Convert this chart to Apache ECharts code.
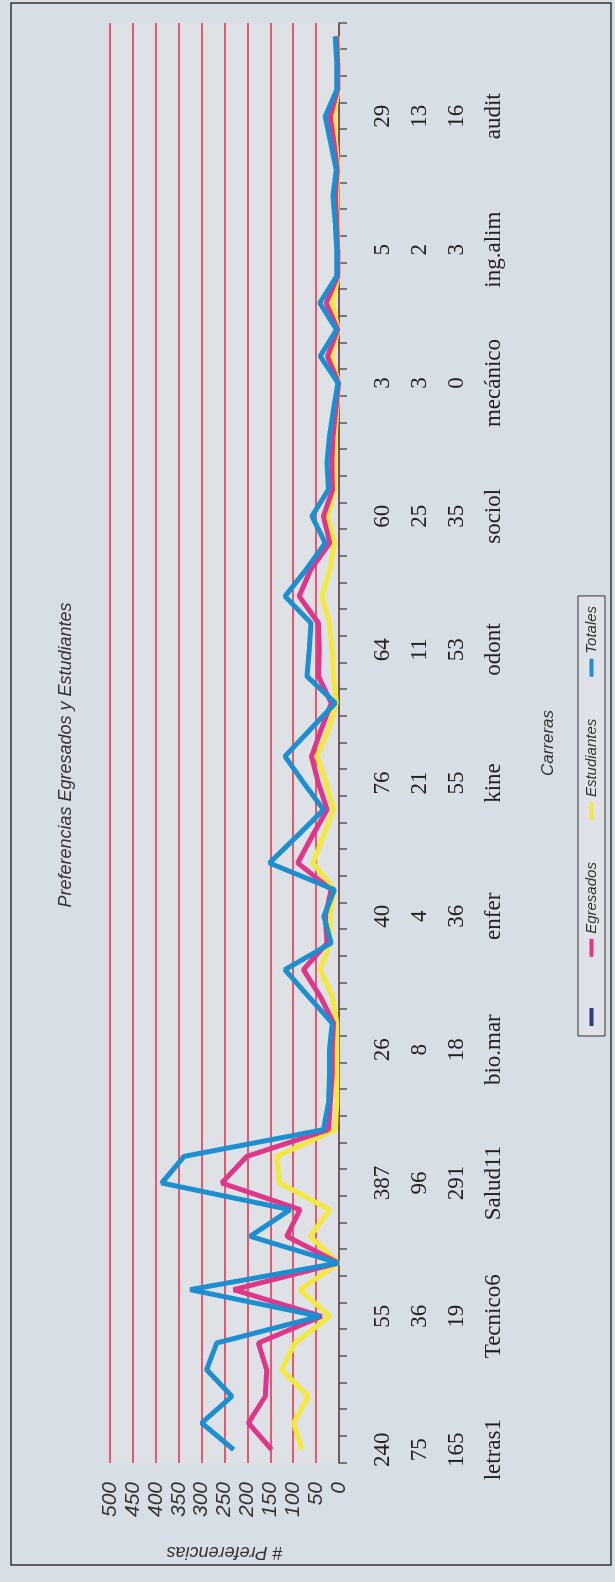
<!DOCTYPE html>
<html>
<head>
<meta charset="utf-8">
<script src="https://cdn.jsdelivr.net/npm/echarts@6/dist/echarts.min.js"></script>
<style>
html,body{margin:0;padding:0;width:615px;height:1582px;overflow:hidden;background:#e6e9ee;}
#wrap{position:absolute;left:0;top:0;width:1582px;height:615px;transform-origin:0 0;transform:translate(0px,1582px) rotate(-90deg);}
</style>
</head>
<body>
<div id="wrap"></div>
<script>
// ---- data ----
const labelNames = ['letras1','Tecnico6','Salud11','bio.mar','enfer','kine','odont','sociol','mecánico','ing.alim','audit'];
const labelRow1 = [240, 55, 387, 26, 40, 76, 64, 60, 3, 5, 29];
const labelRow2 = [75, 36, 96, 8, 4, 21, 11, 25, 3, 2, 13];
const labelRow3 = [165, 19, 291, 18, 36, 55, 53, 35, 0, 3, 16];

const totales = [230,300,234,289,267,42,325,1,194,107,387,338,34,23,21,21,15,67,118,17,33,10,152,92,34,77,118,63,8,70,65,61,118,72,30,59,23,26,21,12,2,41,5,42,5,5,8,13,6,18,30,5,5,8];
const egresados = [147,198,161,158,176,38,230,1,114,85,256,201,23,19,15,15,12,41,78,26,30,17,90,59,26,45,60,39,17,45,43,45,87,62,20,34,14,16,13,7,1,25,3,28,3,3,5,8,4,11,19,3,3,5];
const estudiantes = [81,99,67,125,96,20,85,1,63,20,130,136,8,5,5,5,5,15,41,19,20,10,57,34,12,28,48,23,6,12,15,21,37,20,10,25,9,10,8,5,1,16,2,14,2,2,3,5,2,7,11,2,2,3];

const labelStep = 5;
const categories = totales.map((_, i) => (i % labelStep === 0 ? labelNames[i / labelStep] : '#' + (i + 1)));

const chart = echarts.init(document.getElementById('wrap'), null, {renderer: 'canvas'});
const italic = {fontStyle: 'italic', fontFamily: 'Liberation Sans, Arial, sans-serif', color: '#333'};

chart.setOption({
  animation: false,
  backgroundColor: '#d8dee6',
  title: {
    text: 'Preferencias Egresados y Estudiantes',
    left: 822, top: 52, textAlign: 'center',
    textStyle: Object.assign({}, italic, {fontSize: 18, fontWeight: 'normal'})
  },
  graphic: [{
    type: 'rect', shape: {x: 17, y: 11, width: 1562, height: 600},
    style: {fill: 'none', stroke: '#333', lineWidth: 1.5}, silent: true, z: -1
  }],
  legend: {
    data: [' ', 'Egresados', 'Estudiantes', 'Totales'],
    left: 546, top: 578,
    padding: [6, 10],
    itemWidth: 18, itemHeight: 4, itemGap: 42,
    icon: 'rect',
    borderColor: '#333', borderWidth: 1,
    backgroundColor: '#dfe3e9',
    textStyle: Object.assign({}, italic, {fontSize: 15})
  },
  grid: {
    left: 119, right: 23, top: 110, bottom: 276,
    show: true, backgroundColor: '#dee1e6', borderWidth: 0
  },
  xAxis: {
    type: 'category',
    data: categories,
    boundaryGap: true,
    name: 'Carreras', nameLocation: 'middle', nameGap: 201,
    nameTextStyle: Object.assign({}, italic, {fontSize: 17}),
    axisLine: {lineStyle: {color: '#555', width: 1.5}},
    axisTick: {show: true, interval: 0, length: 8, lineStyle: {color: '#555', width: 1.5}},
    axisLabel: {
      interval: labelStep - 1,
      margin: 25,
      lineHeight: 37,
      fontSize: 23,
      fontFamily: 'Liberation Serif, serif',
      color: '#222',
      formatter: function (v, idx) {
        const k = idx / labelStep;
        return labelRow1[k] + '\n' + labelRow2[k] + '\n' + labelRow3[k] + '\n' + labelNames[k];
      }
    },
    splitLine: {show: false}
  },
  yAxis: {
    type: 'value', min: 0, max: 500, interval: 50,
    name: '# Preferencias', nameLocation: 'middle', nameGap: 80,
    nameTextStyle: Object.assign({}, italic, {fontSize: 18}),
    axisLine: {show: false},
    axisTick: {show: false},
    axisLabel: Object.assign({}, italic, {fontSize: 21, margin: 19}),
    splitLine: {show: true, lineStyle: {color: '#e25a6e', width: 2}}
  },
  series: [
    {name: ' ', type: 'line', data: [], color: '#2b3d7e', lineStyle: {width: 4}},
    {name: 'Egresados', type: 'line', data: egresados, color: '#e0368a', showSymbol: false, z: 3,
     lineStyle: {width: 5, color: '#e0368a'}},
    {name: 'Estudiantes', type: 'line', data: estudiantes, color: '#f4e83c', showSymbol: false, z: 2,
     lineStyle: {width: 5, color: '#f4e83c'}},
    {name: 'Totales', type: 'line', data: totales, color: '#1c8fd0', showSymbol: false, z: 4,
     lineStyle: {width: 5, color: '#1c8fd0'}}
  ]
});
</script>
</body>
</html>
